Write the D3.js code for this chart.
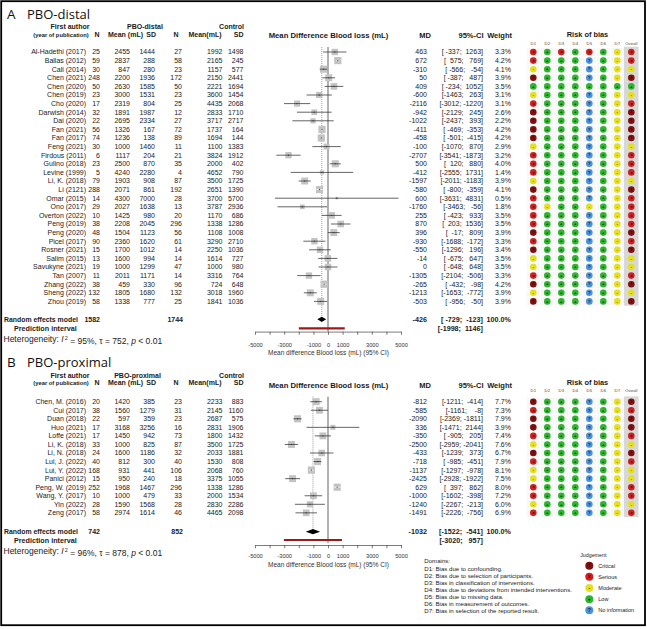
<!DOCTYPE html>
<html><head><meta charset="utf-8">
<script src="https://cdn.jsdelivr.net/npm/d3@7"></script>
<style>
body{margin:0;background:#fff}
text{font-family:"Liberation Sans",Arial,sans-serif;fill:#1a1a1a}
</style>
</head><body>
<svg id="c" width="647" height="629"></svg>
<script>
// ---------------- DATA: Panel A (PBO-distal) ----------------
const studiesA = ["Al-Hadethi (2017)","Ballas (2012)","Cali (2014)","Chen (2021)","Chen (2020)","Chen (2019)","Cho (2020)","Darwish (2014)","Dai (2020)","Fan (2021)","Fan (2017)","Feng (2021)","Firdous (2011)","Gulino (2018)","Levine (1999)","Li, K. (2018)","Li (2121)","Omar (2015)","Ono (2017)","Overton (2022)","Peng (2019)","Peng (2020)","Picel (2017)","Rosner (2021)","Salim (2015)","Savukyne (2021)","Tan (2007)","Zhang (2022)","Sheng (2022)","Zhou (2019)"];
const nPboA = [25,59,30,248,50,23,17,32,22,56,74,30,6,23,5,79,288,14,29,10,38,48,90,15,13,19,11,38,132,58];
const meanPboA = [2455,2837,847,2200,2630,3000,2319,1891,2695,1326,1236,1000,1117,2500,4240,1903,2071,4300,2027,1425,2208,1504,2360,1700,1600,1000,2011,459,1805,1338];
const sdPboA = [1444,288,280,1936,1585,1531,804,1987,2334,167,138,1460,204,870,2280,908,861,7000,1638,980,2045,1123,1620,1012,994,1299,1171,330,1680,777];
const nCtlA = [27,58,23,172,50,23,25,12,27,72,89,11,21,35,4,87,192,28,13,20,296,56,61,14,14,47,14,96,132,25];
const meanCtlA = [1992,2165,1157,2150,2221,3600,4435,2833,3717,1737,1694,1100,3824,2000,4652,3500,2651,3700,3787,1170,1338,1108,3290,2250,1614,1000,3316,724,3018,1841];
const sdCtlA = [1498,245,577,2441,1694,1454,2068,1710,2717,164,144,1383,1912,402,790,1725,1390,5700,2936,686,1286,1008,2710,1036,727,980,764,648,1960,1036];
const mdA = [463,672,-310,50,409,-600,-2116,-942,-1022,-411,-458,-100,-2707,500,-412,-1597,-580,600,-1760,255,870,396,-930,-550,-14,0,-1305,-265,-1213,-503];
const loA = [-337,575,-566,-387,-234,-1463,-3012,-2129,-2437,-469,-501,-1070,-3541,120,-2555,-2011,-800,-3631,-3463,-423,203,-17,-1688,-1296,-675,-648,-2104,-432,-1653,-956];
const hiA = [1263,769,-54,487,1052,263,-1220,245,393,-353,-415,870,-1873,880,1731,-1183,-359,4831,-56,933,1536,809,-172,196,647,648,-506,-98,-772,-50];
const weightA = [3.3,4.2,4.1,3.9,3.5,3.1,3.1,2.6,2.2,4.2,4.2,2.9,3.2,4.0,1.4,3.9,4.1,0.5,1.8,3.5,3.5,3.9,3.3,3.4,3.5,3.5,3.3,4.2,3.9,3.9];
// risk of bias D1..D7 + Overall (C critical, S serious, M moderate, L low, N no information)
const robA = ["SLSLSLMS","SLLLNLMS","MLLLNLMM","CLLLNLMC","LLLLLLLL","MLLLNLMM","SLLLNLMS","CLLLNLMC","CLLLNLMC","CLLLNLMC","CLLLNLMC","MLLLNLMM","SLLLNLMS","SLLLNLMS","SLLLNLMS","MLLLNLMM","CLLLNLMC","SLLLNLMS","SMLLMLMS","SLLLNLMS","SLLLNLMS","CLLLNLMC","SLLLNLMS","CLLLNLMC","MLLLNLMM","MLLLNLMM","SLLLNLMS","CLLLNLMC","MLLLNLMM","CLLLNLMC"];
const pooledA = [1582, 1744, -426, -729, -123];      // N pbo, N ctl, MD, lo, hi
const predA = [-1998, 1146];
const hetA = [95, 752, "< 0.01"];                    // I2, tau, p

// ---------------- DATA: Panel B (PBO-proximal) ----------------
const studiesB = ["Chen, M. (2016)","Cui (2017)","Duan (2018)","Huo (2021)","Loffe (2021)","Li, K. (2018)","Li, N. (2018)","Lui, J. (2022)","Lui, Y. (2022)","Panici (2012)","Peng, W. (2019)","Wang, Y. (2017)","Yin (2022)","Zeng (2017)"];
const nPboB = [20,38,22,17,17,33,24,40,168,15,252,10,28,58];
const meanPboB = [1420,1560,597,3168,1450,1000,1600,812,931,950,1968,1000,1590,2974];
const sdPboB = [385,1279,359,3256,942,825,1186,300,441,240,1467,479,1568,1614];
const nCtlB = [23,31,23,16,73,87,32,40,106,18,296,33,28,46];
const meanCtlB = [2233,2145,2687,2831,1800,3500,2033,1530,2068,3375,1338,2000,2830,4465];
const sdCtlB = [883,1160,575,1906,1432,1725,1881,808,760,1055,1286,1534,2286,2098];
const mdB = [-812,-585,-2090,336,-350,-2500,-433,-718,-1137,-2425,629,-1000,-1240,-1491];
const loB = [-1211,-1161,-2369,-1471,-905,-2959,-1239,-985,-1297,-2928,397,-1602,-2267,-2226];
const hiB = [-414,-8,-1811,2144,205,-2041,373,-451,-978,-1922,862,-398,-213,-756];
const weightB = [7.7,7.3,7.9,3.9,7.4,7.6,6.7,7.9,8.1,7.5,8.0,7.2,6.0,6.9];
const robB = ["CLLLNLMC","SLLLNLMS","CLLLNLMC","CLLLNLMC","SLLLNLMS","MLLLNLMM","CLLLNLMC","SLLLNLMS","MLLLNLMM","MLLLNLMM","SLLLNLMS","SLLLNLMS","MLLLNLMM","SLLLNLMS"];
const pooledB = [742, 852, -1032, -1522, -541];
const predB = [-3020, 957];
const hetB = [96, 878, "< 0.01"];

// ---------------- labels ----------------
const axisTicks = [-5000,-4000,-3000,-2000,-1000,0,1000,2000,3000,4000,5000];
const axisLabels = [-5000,-3000,-1000,0,1000,3000,5000];
const domainLabels = ["D1","D2","D3","D4","D5","D6","D7","Overall"];
const domainText = ["Domains:","D1: Bias due to confounding.","D2: Bias due to selection of participants.","D3: Bias in classification of interventions.","D4: Bias due to deviations from intended interventions.","D5: Bias due to missing data.","D6: Bias in measurement of outcomes.","D7: Bias in selection of the reported result."];
const judgeCodes = ["C","S","M","L","N"];
const judgeNames = ["Critical","Serious","Moderate","Low","No information"];

// ---------------- drawing ----------------
const svg = d3.select("#c");
const x = d3.scaleLinear().domain([-5000,5000]).range([255,401]);
const COL = {C:"#7d1111",S:"#d01f1f",M:"#e4e01e",L:"#2db52d",N:"#4a92dc"};
const SYM = {C:"!",S:"x",M:"-",L:"+",N:"?"};
const robX = d3.scalePoint().domain(domainLabels).range([533.3,631.3]);

function T(g, xx, yy, s, o={}) {
  const t = g.append("text").attr("x",xx).attr("y",yy).attr("dy","0.35em")
    .attr("text-anchor",o.a||"start").style("font-size",(o.s||7)+"px")
    .style("font-weight",o.w||"normal").style("white-space","pre").text(s);
  if (o.f) t.style("fill",o.f);
  if (o.ff) t.style("font-family",o.ff);
  return t;
}
function pad(v,n){ let s=String(v); while(s.length<n) s=" "+s; return s; }
function ci(lo,hi){ return "[" + pad(lo,5) + "; " + pad(hi,5) + "]"; }

function robDot(g, cx, cy, code, r, fs) {
  g.append("circle").attr("cx",cx).attr("cy",cy).attr("r",r).attr("fill",COL[code]);
  T(g, cx, cy-0.2, SYM[code], {a:"middle", s:fs, w:"bold", f: code==="C"?"#2a0000":"#1a1a1a"});
}

function panel(D, L) {
  const g = svg.append("g");
  const n = D.names.length;
  const ry = i => L.y0 + i*L.step;
  // title
  T(g, 7, L.titleY, D.letter, {s:13.5, ff:"'Open Sans',sans-serif", f:"#111"});
  T(g, 27, L.titleY, D.title, {s:13, ff:"'Open Sans',sans-serif", f:"#111"});
  // headers
  T(g, 70, L.h1, "First author", {a:"middle", s:7, w:"bold"});
  T(g, 61, L.h2, "(year of publication)", {a:"middle", s:5.8, w:"bold"});
  T(g, D.grpX, L.h1, D.title, {a:"middle", s:7, w:"bold"});
  T(g, 244, L.h1, "Control", {a:"end", s:7, w:"bold"});
  T(g, 99.5, L.h2, "N", {a:"end", s:7, w:"bold"});
  T(g, 143, L.h2, "Mean (mL)", {a:"end", s:7, w:"bold"});
  T(g, 156, L.h2, "SD", {a:"end", s:7, w:"bold"});
  T(g, 178.5, L.h2, "N", {a:"end", s:7, w:"bold"});
  T(g, 221.5, L.h2, "Mean(mL)", {a:"end", s:7, w:"bold"});
  T(g, 243.5, L.h2, "SD", {a:"end", s:7, w:"bold"});
  T(g, 328.5, L.h3, "Mean Difference Blood loss (mL)", {a:"middle", s:7.7, w:"bold"});
  T(g, 431, L.h3, "MD", {a:"end", s:7.5, w:"bold"});
  T(g, 483.5, L.h3, "95%-CI", {a:"end", s:7.5, w:"bold"});
  T(g, 512, L.h3, "Weight", {a:"end", s:7.5, w:"bold"});
  T(g, 587.5, L.rh, "Risk of bias", {a:"middle", s:7.4, w:"bold"});
  domainLabels.forEach(dl => T(g, robX(dl), L.dl, dl, {a:"middle", s:dl==="Overall"?3.8:4.2, f:"#444"}));

  // risk of bias background
  const top = ry(0) - L.step/2, bot = ry(n-1) + L.step/2;
  domainLabels.slice(0,7).forEach(dl => {
    for (let i=0;i<n;i++) g.append("rect").attr("x",robX(dl)-6.5).attr("y",ry(i)-L.step/2+0.4)
      .attr("width",13).attr("height",L.step-0.8).attr("fill","#f7f7f7");
  });
  g.append("rect").attr("x",624).attr("y",top-1).attr("width",14.5).attr("height",bot-top+1).attr("fill","#d8d8d8");

  // reference lines
  const lineTop = ry(0) - 5;
  g.append("line").attr("x1",x(0)).attr("x2",x(0)).attr("y1",lineTop).attr("y2",L.pi+3)
    .attr("stroke","#222").attr("stroke-width",0.7);
  g.append("line").attr("x1",x(D.pooled[2])).attr("x2",x(D.pooled[2])).attr("y1",lineTop).attr("y2",L.re-2)
    .attr("stroke","#777").attr("stroke-width",0.7).attr("stroke-dasharray","1,1");

  const maxW = d3.max(D.w);
  for (let i=0;i<n;i++) {
    const y = ry(i);
    T(g, 86, y, D.names[i], {a:"end"});
    T(g, 100, y, String(D.n1[i]), {a:"end"});
    T(g, 130, y, String(D.m1[i]), {a:"end"});
    T(g, 155, y, String(D.s1[i]), {a:"end"});
    T(g, 182, y, String(D.n2[i]), {a:"end"});
    T(g, 222.5, y, String(D.m2[i]), {a:"end"});
    T(g, 243.5, y, String(D.s2[i]), {a:"end"});
    T(g, 427, y, String(D.md[i]), {a:"end"});
    T(g, 483, y, ci(D.lo[i], D.hi[i]), {a:"end"});
    T(g, 511, y, D.w[i].toFixed(1)+"%", {a:"end"});
    // square + CI
    const side = 7.2*Math.sqrt(D.w[i]/maxW);
    const cx = x(D.md[i]);
    g.append("rect").attr("x",cx-side/2).attr("y",y-side/2).attr("width",side).attr("height",side).attr("fill","#c3c3c3");
    const inside = (x(D.hi[i]) - x(D.lo[i])) < side;
    g.append("line").attr("x1",x(D.lo[i])).attr("x2",x(D.hi[i])).attr("y1",y).attr("y2",y)
      .attr("stroke", inside ? "#fff" : "#222").attr("stroke-width",0.7);
    g.append("rect").attr("x",cx-0.5).attr("y",y-0.5).attr("width",1).attr("height",1).attr("fill","#333");
    // risk of bias dots
    domainLabels.forEach((dl,k) => robDot(g, robX(dl), y, D.rob[i][k], 3.3, 4.2));
  }

  // pooled
  const p = D.pooled;
  T(g, 4, L.re, "Random effects model", {s:6.9, w:"bold"});
  T(g, 100, L.re, String(p[0]), {a:"end", s:7, w:"bold"});
  T(g, 183, L.re, String(p[1]), {a:"end", s:7, w:"bold"});
  T(g, 14, L.pi, "Prediction interval", {s:7.2, w:"bold"});
  T(g, 427, L.re, String(p[2]), {a:"end", s:7.2, w:"bold"});
  T(g, 483, L.re, ci(p[3], p[4]), {a:"end", s:7.2, w:"bold"});
  T(g, 511, L.re, "100.0%", {a:"end", s:7.2, w:"bold"});
  T(g, 483, L.pi, ci(D.pred[0], D.pred[1]), {a:"end", s:7.2, w:"bold"});
  const dh = 2.6;
  g.append("path").attr("d", `M${x(p[3])},${L.re} L${x(p[2])},${L.re-dh} L${x(p[4])},${L.re} L${x(p[2])},${L.re+dh} Z`).attr("fill","#000");
  g.append("line").attr("x1",x(D.pred[0])).attr("x2",x(D.pred[1])).attr("y1",L.pi).attr("y2",L.pi)
    .attr("stroke","#a01818").attr("stroke-width",2.2);

  // heterogeneity
  const ht = T(g, 3.5, L.het, "", {s:8.5});
  ht.append("tspan").text("Heterogeneity: ");
  ht.append("tspan").style("font-style","italic").text("I");
  ht.append("tspan").attr("dx","1.2").attr("dy","-0.45em").style("font-size","5.5px").text("2");
  ht.append("tspan").attr("dy","0.45em").text(" = " + D.het[0] + "%, \u03C4 = " + D.het[1] + ", ");
  ht.append("tspan").style("font-style","italic").text("p");
  ht.append("tspan").text(" " + D.het[2]);

  // axis
  const ax = g.append("g").attr("transform",`translate(0,${L.axis})`)
    .call(d3.axisBottom(x).tickValues(axisTicks).tickSize(3.2).tickSizeOuter(0)
      .tickFormat(v => axisLabels.includes(v) ? String(v) : ""));
  ax.select(".domain").attr("stroke","#444").attr("stroke-width",0.7);
  ax.selectAll(".tick line").attr("stroke","#444").attr("stroke-width",0.7);
  ax.selectAll(".tick text").attr("y",L.tickLab - L.axis).attr("dy","0.35em")
    .style("font-size","5.7px").style("font-family","'Liberation Sans',Arial,sans-serif").style("fill","#333");
  T(g, 328.5, L.axTitle, "Mean difference Blood loss (mL) (95% CI)", {a:"middle", s:6.5, f:"#333"});
}

panel({letter:"A", title:"PBO-distal", grpX:145, names:studiesA, n1:nPboA, m1:meanPboA, s1:sdPboA, n2:nCtlA, m2:meanCtlA, s2:sdCtlA,
  md:mdA, lo:loA, hi:hiA, w:weightA, rob:robA, pooled:pooledA, pred:predA, het:hetA},
  {titleY:14.5, h1:26.7, h2:34.7, h3:35, rh:34, dl:43.3, y0:52, step:8.6, re:319.3, pi:328.3, het:339.5, axis:331.6, tickLab:345, axTitle:352.8});

panel({letter:"B", title:"PBO-proximal", grpX:137.5, names:studiesB, n1:nPboB, m1:meanPboB, s1:sdPboB, n2:nCtlB, m2:meanCtlB, s2:sdCtlB,
  md:mdB, lo:loB, hi:hiB, w:weightB, rob:robB, pooled:pooledB, pred:predB, het:hetB},
  {titleY:362.5, h1:375.7, h2:382.7, h3:385, rh:382.7, dl:391, y0:401.7, step:8.55, re:531.7, pi:540, het:551.5, axis:545, tickLab:556, axTitle:564.3});

// legend: domains
const lg = svg.append("g");
domainText.forEach((s,i) => T(lg, 424.3, 561 + (i===0?0:7.05*i+0.5), s, {s:6.1}));
// legend: judgement
T(lg, 593.3, 555, "Judgement", {a:"middle", s:5.3});
judgeCodes.forEach((c,i) => {
  const yy = 565.7 + i*11.15;
  robDot(lg, 589.3, yy, c, 4, 5.2);
  T(lg, 598.3, yy, judgeNames[i], {s:5.5});
});

// frame
svg.append("rect").attr("x",1.2).attr("y",1.2).attr("width",643.8).attr("height",624).attr("fill","none")
  .attr("stroke","#000").attr("stroke-width",1.8);
</script>
</body></html>
